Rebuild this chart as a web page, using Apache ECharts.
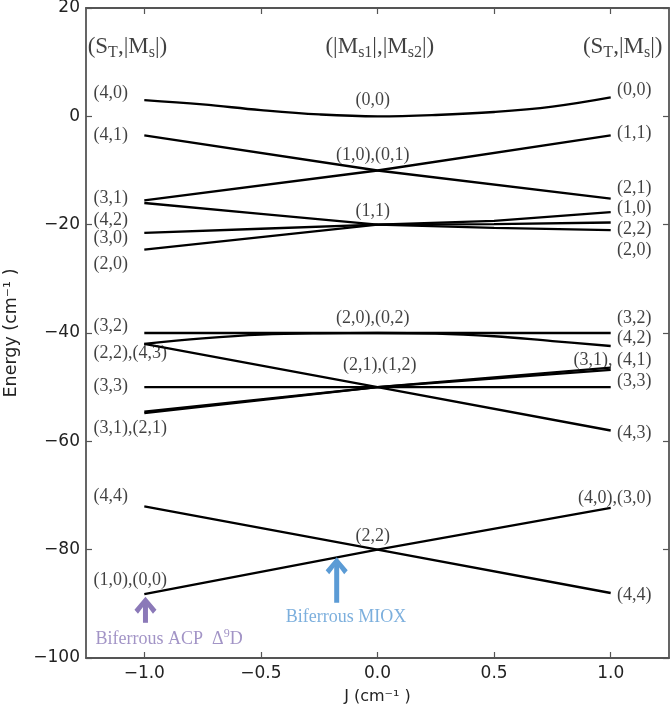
<!DOCTYPE html>
<html><head><meta charset="utf-8">
<script src="https://cdn.jsdelivr.net/npm/echarts@6/dist/echarts.min.js"></script>
<style>html,body{margin:0;padding:0;background:#fff}#c{width:671px;height:710px}</style>
</head><body><div id="c"></div>
<script>
// ---- grid of J values used by the level curves ----
const J_FULL = [-1, -0.75, -0.5, -0.25, 0, 0.25, 0.5, 0.75, 1];
const J_5 = [-1, -0.5, 0, 0.5, 1];
const J_3 = [-1, 0, 1];

// ---- energy levels (cm^-1) ----
const e40_00 = [3.0, 2.2, 1.15, 0.35, 0, 0.25, 0.8, 1.8, 3.5];      // J_FULL
const e41_21 = [-3.5, -10, -15.2];                                   // J_3
const e31_11 = [-15.5, -10, -3.5];                                   // J_3
const e31_22 = [-16.0, -18.0, -20, -20.6, -21.0];                    // J_5
const e30_22 = [-21.5, -20.75, -20, -19.9, -19.6];                   // J_5
const e20_10 = [-24.6, -22.3, -20, -19.3, -17.7];                    // J_5
const e32_32 = [-40, -40, -40];                                      // J_3
const e22_42 = [-42, -41.0, -40.3, -40.05, -40, -40.1, -40.6, -41.5, -42.4]; // J_FULL
const e43_43 = [-42, -50, -58];                                      // J_3
const e33_33 = [-50, -50, -50];                                      // J_3
const e31_31 = [-54.5, -50, -46.4];                                  // J_3
const e21_41 = [-54.8, -50, -46.8];                                  // J_3
const e44_44 = [-72, -80, -88];                                      // J_3
const e10_40 = [-88.2, -80, -72.3];                                  // J_3

// ---- state labels ----
const leftLabels = ['(4,0)', '(4,1)', '(3,1)', '(4,2)', '(3,0)', '(2,0)', '(3,2)', '(2,2),(4,3)', '(3,3)', '(3,1),(2,1)', '(4,4)', '(1,0),(0,0)'];
const leftLabelE = [4.25, -3.45, -15.1, -19.1, -22.6, -27.4, -38.7, -43.8, -49.9, -57.6, -70.2, -85.6];
const rightLabels = ['(0,0)', '(1,1)', '(2,1)', '(1,0)', '(2,2)', '(2,0)', '(3,2)', '(4,2)', '(3,1), (4,1)', '(3,3)', '(4,3)', '(4,0),(3,0)', '(4,4)'];
const rightLabelE = [4.85, -3.15, -13.3, -17.0, -20.9, -24.7, -37.3, -41.0, -45.0, -49.0, -58.5, -70.5, -88.4];
const midLabels = ['(0,0)', '(1,0),(0,1)', '(1,1)', '(2,0),(0,2)', '(2,1),(1,2)', '(2,2)'];
const midLabelJ = [-0.02, -0.02, -0.02, -0.02, 0.01, -0.02];
const midLabelE = [3.0, -7.15, -17.6, -37.3, -45.9, -77.5];
const LEFT_LABEL_J = -1.22;
const RIGHT_LABEL_J = 1.177;

// ---- column headers ----
const headers = ['(S{s|T},|M{s|s}|)', '(|M{s|s1}|,|M{s|s2}|)', '(S{s|T},|M{s|s}|)'];
const headerJ = [-1.245, 0.01, 1.224];
const headerE = 12.85;

// ---- annotation arrows ----
const arrowJ = [-0.995, -0.175];
const arrowTipE = [-88.7, -81.4];
const arrowBaseE = [-93.5, -89.8];
const arrowColors = ['#8B79B8', '#5B9BD5'];
const noteText = ['Biferrous ACP  \u0394{sup|9}D', 'Biferrous MIOX'];
const noteJ = [-1.211, -0.135];
const noteE = [-96.5, -92.4];

// ---- ticks ----
const xTicks = [-1, -0.5, 0, 0.5, 1];

const pair = (J, E) => J.map((j, i) => [j, E[i]]);
const lineStyle = { color: '#000', width: 2.3 };
function lvl(J, E, smooth) {
  return { type: 'line', data: pair(J, E), showSymbol: false, smooth: smooth || false,
    lineStyle: lineStyle, silent: true, z: 3 };
}
const serif = '"Liberation Serif", "Times New Roman", serif';
const sans = '"DejaVu Sans", sans-serif';

const chart = echarts.init(document.getElementById('c'));
const minus = v => (v < 0 ? '\u2212' + String(-v) : String(v));
const axCol = '#555';

const option = {
  animation: false,
  grid: { left: 86, right: 2, top: 8, bottom: 52, outerBoundsMode: 'none', containLabel: false },
  xAxis: [
    { type: 'value', min: -1.25, max: 1.25, position: 'bottom',
      axisLine: { show: true, onZero: false, lineStyle: { color: axCol, width: 1.8 } },
      axisTick: { show: true, inside: true, length: 6, customValues: xTicks, lineStyle: { color: axCol, width: 1.2 } },
      axisLabel: { customValues: xTicks, formatter: v => (v < 0 ? '\u2212' + (-v).toFixed(1) : v.toFixed(1)),
        fontFamily: sans, fontSize: 17, color: '#222', margin: 7 },
      splitLine: { show: false },
      name: 'J (cm\u207B\u00B9 )', nameLocation: 'middle', nameGap: 31,
      nameTextStyle: { fontFamily: sans, fontSize: 16, color: '#222' } },
    { type: 'value', min: -1.25, max: 1.25, position: 'top',
      axisLine: { show: true, onZero: false, lineStyle: { color: axCol, width: 1.8 } },
      axisTick: { show: true, inside: true, length: 6, customValues: xTicks, lineStyle: { color: axCol, width: 1.2 } },
      axisLabel: { show: false }, splitLine: { show: false } }
  ],
  yAxis: [
    { type: 'value', min: -100, max: 20, interval: 20, position: 'left',
      axisLine: { show: true, onZero: false, lineStyle: { color: axCol, width: 1.8 } },
      axisTick: { show: true, inside: true, length: 6, lineStyle: { color: axCol, width: 1.2 } },
      axisLabel: { formatter: minus, fontFamily: sans, fontSize: 17, color: '#222', margin: 6,
        showMinLabel: true, showMaxLabel: true },
      splitLine: { show: false },
      name: 'Energy (cm\u207B\u00B9 )', nameLocation: 'middle', nameGap: 66,
      nameTextStyle: { fontFamily: sans, fontSize: 17.5, color: '#222' } },
    { type: 'value', min: -100, max: 20, interval: 20, position: 'right',
      axisLine: { show: true, onZero: false, lineStyle: { color: axCol, width: 1.8 } },
      axisTick: { show: true, inside: true, length: 6, lineStyle: { color: axCol, width: 1.2 } },
      axisLabel: { show: false }, splitLine: { show: false } }
  ],
  series: [
    lvl(J_FULL, e40_00, 0.4),
    lvl(J_3, e41_21), lvl(J_3, e31_11),
    lvl(J_5, e31_22), lvl(J_5, e30_22), lvl(J_5, e20_10),
    lvl(J_3, e32_32), lvl(J_FULL, e22_42, 0.4), lvl(J_3, e43_43), lvl(J_3, e33_33),
    lvl(J_3, e31_31), lvl(J_3, e21_41),
    lvl(J_3, e44_44), lvl(J_3, e10_40),
    { type: 'scatter', symbolSize: 1, itemStyle: { color: 'transparent' }, silent: true, z: 5,
      data: leftLabels.map((t, i) => [LEFT_LABEL_J, leftLabelE[i], t]),
      label: { show: true, position: 'right', distance: 0, formatter: p => p.value[2],
        fontFamily: serif, fontSize: 18, color: '#111' } },
    { type: 'scatter', symbolSize: 1, itemStyle: { color: 'transparent' }, silent: true, z: 5,
      data: rightLabels.map((t, i) => [RIGHT_LABEL_J, rightLabelE[i], t]),
      label: { show: true, position: 'left', distance: 0, formatter: p => p.value[2],
        fontFamily: serif, fontSize: 18, color: '#111' } },
    { type: 'scatter', symbolSize: 1, itemStyle: { color: 'transparent' }, silent: true, z: 5,
      data: midLabels.map((t, i) => [midLabelJ[i], midLabelE[i], t]),
      label: { show: true, position: 'inside', formatter: p => p.value[2],
        fontFamily: serif, fontSize: 18, color: '#111' } },
    { type: 'scatter', symbolSize: 1, itemStyle: { color: 'transparent' }, silent: true, z: 5,
      data: headers.map((t, i) => ({ value: [headerJ[i], headerE, t],
        label: { position: i === 0 ? 'right' : (i === 2 ? 'left' : 'inside') } })),
      label: { show: true, distance: 0, formatter: p => p.value[2],
        fontFamily: serif, fontSize: 23, lineHeight: 28, color: '#111',
        rich: { s: { fontFamily: serif, fontSize: 16, verticalAlign: 'bottom', color: '#111' } } } },
    { type: 'custom', silent: true, z: 6,
      data: arrowJ.map((j, i) => [j, arrowTipE[i], arrowBaseE[i], i]),
      renderItem: (params, api) => {
        const tip = api.coord([api.value(0), api.value(1)]);
        const base = api.coord([api.value(0), api.value(2)]);
        const col = arrowColors[api.value(3)];
        const tx = tip[0], ty = tip[1];
        return { type: 'group', children: [
          { type: 'line', shape: { x1: tx, y1: ty + 5, x2: base[0], y2: base[1] },
            style: { stroke: col, lineWidth: 5 } },
          { type: 'polygon', shape: { points: [[tx, ty], [tx + 11, ty + 13], [tx + 7.5, ty + 17], [tx, ty + 7], [tx - 7.5, ty + 17], [tx - 11, ty + 13]] },
            style: { fill: col } }
        ] };
      } },
    { type: 'scatter', symbolSize: 1, itemStyle: { color: 'transparent' }, silent: true, z: 6,
      data: noteText.map((t, i) => ({ value: [noteJ[i], noteE[i], t],
        label: { position: i === 0 ? 'right' : 'inside', color: arrowColors[i],
          rich: { sup: { fontFamily: serif, fontSize: 12, verticalAlign: 'top', color: arrowColors[i] } } } })),
      label: { show: true, distance: 0, formatter: p => p.value[2],
        fontFamily: serif, fontSize: 18, lineHeight: 22 } }
  ]
};
chart.setOption(option);
</script></body></html>
